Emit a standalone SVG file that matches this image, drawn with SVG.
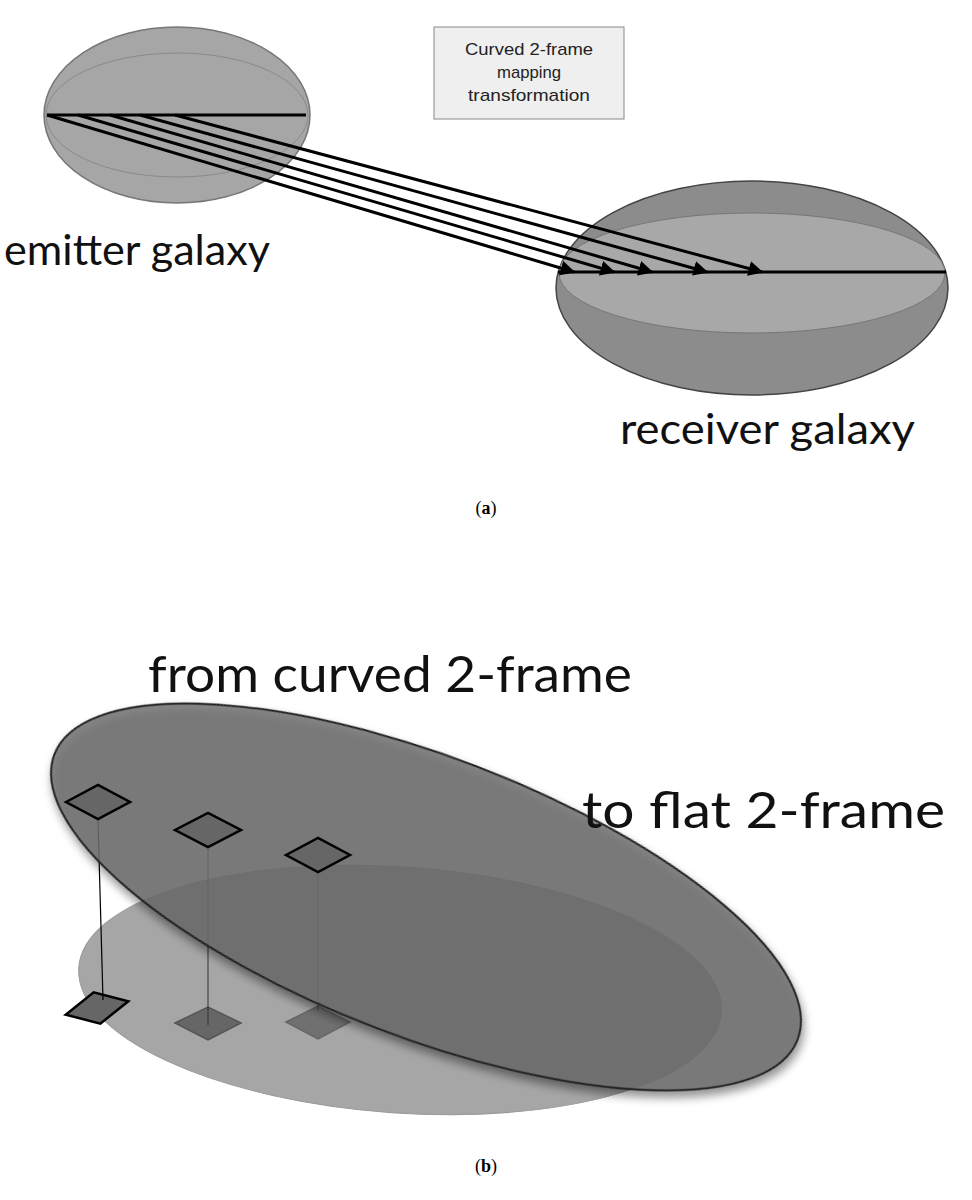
<svg xmlns="http://www.w3.org/2000/svg" width="972" height="1200" viewBox="0 0 972 1200">
<style>
.lbl{font-family:"Gill Sans","Lato","Open Sans",sans-serif;fill:#111}
.cap{font-family:"Liberation Serif",serif;font-size:18px;fill:#000}
.box{font-family:"Liberation Sans",sans-serif;font-size:17px;fill:#222}
.ray{stroke:#000;stroke-width:3;fill:none;marker-end:url(#ah)}
.dia{fill:#666;stroke:#000;stroke-width:2.5}
</style>
<defs>
<marker id="ah" viewBox="0 0 10 10" refX="9" refY="5" markerWidth="5" markerHeight="5" orient="auto"><path d="M0,0 L10,5 L0,10 z" fill="#000"/></marker>
<filter id="sh" x="-10%" y="-20%" width="130%" height="150%"><feGaussianBlur in="SourceAlpha" stdDeviation="5"/><feOffset dx="4" dy="5"/><feComponentTransfer><feFuncA type="linear" slope="0.5"/></feComponentTransfer><feMerge><feMergeNode/><feMergeNode in="SourceGraphic"/></feMerge></filter>
</defs>
<rect width="972" height="1200" fill="#fff"/>
<g id="emitter">
<ellipse cx="177" cy="115" rx="133" ry="88" fill="#a6a6a6" stroke="#777" stroke-width="1.5"/>
<ellipse cx="177" cy="115" rx="131" ry="62" fill="none" stroke="#8a8a8a" stroke-width="1"/>
<line x1="47" y1="115" x2="306" y2="115" stroke="#000" stroke-width="3"/>
</g>
<g id="receiver">
<ellipse cx="752" cy="288" rx="196" ry="107" fill="#8c8c8c" stroke="#444" stroke-width="1.5"/>
<ellipse cx="752" cy="273" rx="193" ry="60" fill="#a8a8a8" stroke="#777" stroke-width="1"/>
<line x1="558" y1="272" x2="946" y2="272" stroke="#000" stroke-width="3"/>
</g>
<g id="box">
<rect x="434" y="27" width="190" height="92" fill="#efefef" stroke="#888" stroke-width="1"/>
<text class="box" x="529" y="55" text-anchor="middle" textLength="128" lengthAdjust="spacingAndGlyphs">Curved 2-frame</text>
<text class="box" x="529" y="78" text-anchor="middle" textLength="64" lengthAdjust="spacingAndGlyphs">mapping</text>
<text class="box" x="529" y="101" text-anchor="middle" textLength="122" lengthAdjust="spacingAndGlyphs">transformation</text>
</g>
<g id="connectors">
<line class="ray" x1="47" y1="115" x2="574" y2="272"/>
<line class="ray" x1="78" y1="115" x2="614" y2="272"/>
<line class="ray" x1="110" y1="115" x2="652" y2="272"/>
<line class="ray" x1="140" y1="115" x2="707" y2="272"/>
<line class="ray" x1="175" y1="115" x2="762" y2="272"/>
</g>
<text class="lbl" x="4" y="265" font-size="42" textLength="266" lengthAdjust="spacingAndGlyphs">emitter galaxy</text>
<text class="lbl" x="620" y="444" font-size="42" textLength="295" lengthAdjust="spacingAndGlyphs">receiver galaxy</text>
<text class="cap" x="486" y="514" text-anchor="middle">(<tspan font-weight="bold">a</tspan>)</text>

<g id="flat-frame">
<ellipse cx="400" cy="990" rx="322" ry="123" transform="rotate(4 400 990)" fill="#a6a6a6" stroke="#999" stroke-width="1"/>
</g>
<g id="flat-squares">
<polygon class="dia" points="65,1008 97,992 129,1008 97,1024" transform="rotate(-12 97 1008)"/>
<polygon points="175,1023 208,1007 241,1023 208,1040" fill="#666" stroke="#555" stroke-width="1.5"/>
<polygon points="286,1022 318,1006 350,1022 318,1039" fill="#707070" stroke="#666" stroke-width="1.5"/>
</g>
<g id="connectors-b">
<line x1="98" y1="819" x2="103" y2="1000" stroke="#000" stroke-width="1.2"/>
<line x1="208" y1="847" x2="208" y2="1025" stroke="#333" stroke-width="1"/>
<line x1="318" y1="872" x2="318" y2="1010" stroke="#444" stroke-width="1"/>
</g>
<g id="curved-frame">
<ellipse cx="426" cy="897" rx="398" ry="140" transform="rotate(21 426 897)" fill="#6e6e6e" fill-opacity="0.82" stroke="#222" stroke-width="2" filter="url(#sh)"/>
</g>
<g id="curved-squares">
<polygon class="dia" points="66,802 98,785 130,802 98,819"/>
<polygon class="dia" points="175,830 208,813 241,830 208,847"/>
<polygon class="dia" points="286,855 318,838 350,855 318,872"/>
</g>
<text class="lbl" x="148" y="692" font-size="50" textLength="484" lengthAdjust="spacingAndGlyphs">from curved 2-frame</text>
<text class="lbl" x="582" y="828" font-size="50" textLength="363" lengthAdjust="spacingAndGlyphs">to flat 2-frame</text>
<text class="cap" x="486" y="1172" text-anchor="middle">(<tspan font-weight="bold">b</tspan>)</text>
</svg>
